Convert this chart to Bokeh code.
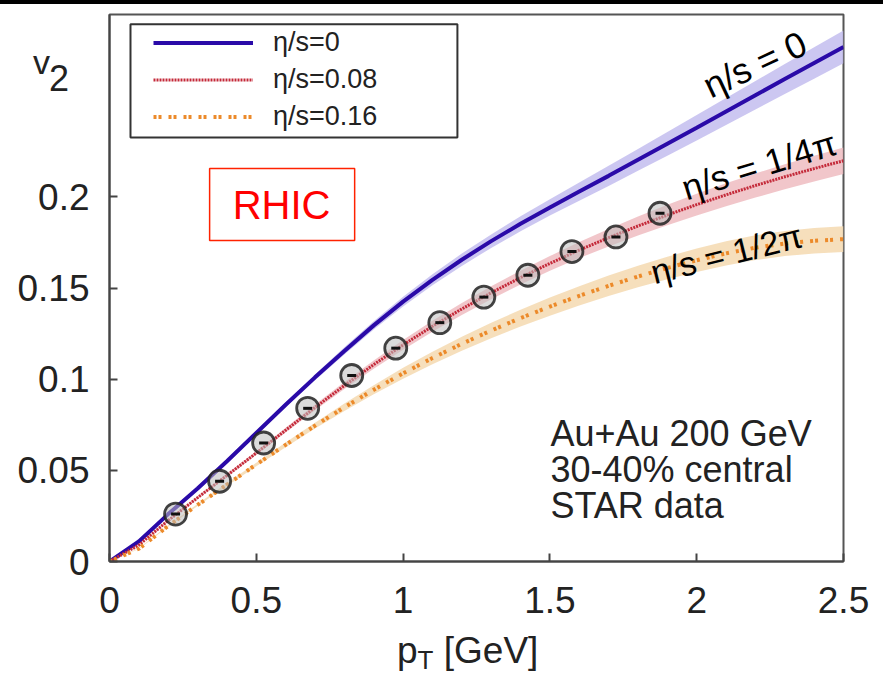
import math
from bokeh.plotting import figure
from bokeh.models import (Legend, LegendItem, Label, FixedTicker, Range1d, Div,
                          BoxAnnotation)
from bokeh.layouts import column
from bokeh.embed import file_html
from bokeh.resources import INLINE

# ---------------- data ----------------
pt = [0.0, 0.1, 0.2, 0.3, 0.4, 0.5, 0.6, 0.7, 0.8, 0.9, 1.0, 1.1, 1.2, 1.3,
      1.4, 1.5, 1.6, 1.7, 1.8, 1.9, 2.0, 2.1, 2.2, 2.3, 2.4, 2.5]

v2_ideal = [0.0, 0.011, 0.026, 0.040, 0.055, 0.0705, 0.086, 0.101, 0.1155, 0.1295,
            0.1425, 0.1545, 0.1655, 0.1757, 0.1852, 0.1942, 0.2029, 0.2115, 0.2203, 0.2291,
            0.2379, 0.2468, 0.2557, 0.2646, 0.2734, 0.2822]
band_ideal = [0.0, 0.0002, 0.0004, 0.0006, 0.0008, 0.001, 0.0013, 0.0016, 0.002, 0.0023,
              0.0027, 0.003, 0.0034, 0.0037, 0.0041, 0.0045, 0.005, 0.0055, 0.006, 0.0065,
              0.007, 0.0074, 0.0078, 0.0082, 0.0086, 0.009]

v2_visc008 = [0.0, 0.009, 0.0225, 0.035, 0.0472, 0.0595, 0.072, 0.0845, 0.0965, 0.108,
              0.1188, 0.129, 0.1385, 0.1474, 0.1557, 0.1635, 0.1708, 0.1776, 0.184, 0.19,
              0.1957, 0.2011, 0.2062, 0.211, 0.2155, 0.2198]
band_visc008 = [0.0, 0.0002, 0.0004, 0.0006, 0.0008, 0.001, 0.0013, 0.0016, 0.0019, 0.0023,
                0.0027, 0.003, 0.0033, 0.0036, 0.0038, 0.004, 0.0044, 0.0048, 0.0052, 0.0056,
                0.006, 0.0063, 0.0066, 0.0069, 0.0071, 0.0073]

v2_visc016 = [0.0, 0.007, 0.0195, 0.031, 0.0422, 0.0532, 0.064, 0.0745, 0.0846, 0.0942,
              0.1032, 0.1116, 0.1194, 0.1267, 0.1335, 0.1398, 0.1457, 0.1512, 0.1563, 0.161,
              0.1652, 0.169, 0.1721, 0.1744, 0.1759, 0.1768]
band_visc016 = [0.0, 0.0002, 0.0004, 0.0006, 0.0008, 0.001, 0.0013, 0.0016, 0.002, 0.0025,
                0.003, 0.0034, 0.0038, 0.0042, 0.0046, 0.005, 0.0053, 0.0056, 0.0059, 0.0062,
                0.0064, 0.0066, 0.0068, 0.0069, 0.007, 0.007]

star_pt = [0.225, 0.375, 0.525, 0.675, 0.825, 0.975, 1.125, 1.275, 1.425, 1.575, 1.725, 1.875]
star_v2 = [0.026, 0.044, 0.065, 0.084, 0.102, 0.117, 0.131, 0.145, 0.157, 0.170, 0.178, 0.191]

series_labels = ["η/s=0", "η/s=0.08", "η/s=0.16"]
x_ticks = [0.0, 0.5, 1.0, 1.5, 2.0, 2.5]
x_tick_labels = ["0", "0.5", "1", "1.5", "2", "2.5"]
y_ticks = [0.0, 0.05, 0.1, 0.15, 0.2]
y_tick_labels = ["0", "0.05", "0.1", "0.15", "0.2"]

FONT = "Liberation Sans"

# ---------------- figure ----------------
p = figure(width=883, height=675, x_range=Range1d(0, 2.5), y_range=Range1d(0, 0.3),
           min_border_left=109, min_border_right=40, min_border_top=10,
           min_border_bottom=118, output_backend="svg", toolbar_location=None)
p.xgrid.visible = False
p.ygrid.visible = False
p.outline_line_color = "#555555"
p.outline_line_width = 2
p.background_fill_color = "white"
p.border_fill_color = "white"

for ax, ticks, labels in ((p.xaxis[0], x_ticks, x_tick_labels), (p.yaxis[0], y_ticks, y_tick_labels)):
    ax.ticker = FixedTicker(ticks=ticks)
    ax.major_label_overrides = {t: l for t, l in zip(ticks, labels)}
    ax.axis_line_color = "#444444"
    ax.axis_line_width = 2
    ax.major_tick_in = 8
    ax.major_tick_out = 0
    ax.major_tick_line_color = "#444444"
    ax.major_tick_line_width = 2
    ax.minor_tick_line_color = None
    ax.major_label_text_font = FONT
    ax.major_label_text_font_size = "37px"
    ax.major_label_text_color = "#222222"
p.xaxis.major_label_standoff = 25
p.yaxis.major_label_standoff = 20

# bands
band_specs = [
    (v2_ideal, band_ideal, "#c3bdee", 0.85),
    (v2_visc008, band_visc008, "#efbcc1", 0.85),
    (v2_visc016, band_visc016, "#f5dcb5", 0.9),
]
for vals, hw, col, a in band_specs:
    lo = [v - h for v, h in zip(vals, hw)]
    hi = [v + h for v, h in zip(vals, hw)]
    p.varea(x=pt, y1=lo, y2=hi, fill_color=col, fill_alpha=a)

l0 = p.line(pt, v2_ideal, line_color="#2a0aa8", line_width=4)
l1 = p.line(pt, v2_visc008, line_color="#c42a3a", line_width=3, line_dash="2 1")
l2 = p.line(pt, v2_visc016, line_color="#ec8a2a", line_width=4, line_dash="3 2 3 7")

# STAR data
p.scatter(star_pt, star_v2, marker="circle", size=22, fill_color="#bdbdbd", fill_alpha=0.55,
          line_color="#222222", line_width=2.8, line_alpha=0.85)
p.scatter(star_pt, star_v2, marker="dash", size=9, line_color="#111111", line_width=3)

# legend
legend = Legend(items=[LegendItem(label=series_labels[0], renderers=[l0]),
                       LegendItem(label=series_labels[1], renderers=[l1]),
                       LegendItem(label=series_labels[2], renderers=[l2])],
                location=(44, 426), padding=0, spacing=0, margin=0,
                label_height=37, glyph_height=37, glyph_width=100, label_standoff=20,
                label_text_font=FONT, label_text_font_size="27px", label_text_color="#222222",
                border_line_alpha=0, background_fill_alpha=0)
p.add_layout(legend, "center")
p.add_layout(BoxAnnotation(left=0.0715, right=1.185, bottom=0.2326, top=0.2946,
                           fill_alpha=0, line_color="#333333", line_width=2, line_alpha=1))

# RHIC box
p.add_layout(BoxAnnotation(left=0.341, right=0.835, bottom=0.1761, top=0.2155,
                           fill_alpha=0, line_color="#ff2200", line_width=1.5, line_alpha=1))
p.add_layout(Label(x=0.586, y=0.1953, text="RHIC", text_align="center", text_baseline="middle",
                   text_font=FONT, text_font_size="40px", text_color="#ff0000"))

# curve annotations
for x, y, txt, ang, fs in ((2.03, 0.2600, "η/s = 0", 25.0, "36px"),
                           (1.953, 0.2046, "η/s = 1/4π", 17.0, "35px"),
                           (1.846, 0.1585, "η/s = 1/2π", 14.0, "34px")):
    p.add_layout(Label(x=x, y=y, text=txt, angle=math.radians(ang), text_align="left",
                       text_baseline="alphabetic", text_font=FONT, text_font_size=fs,
                       text_color="#000000"))

# info text
for y, txt in ((0.0702, "Au+Au 200 GeV"), (0.0505, "30-40% central"), (0.0307, "STAR data")):
    p.add_layout(Label(x=1.502, y=y, text=txt, text_align="left", text_baseline="middle",
                       text_font=FONT, text_font_size="36px", text_color="#222222"))

# axis titles (HTML, placed over the figure margins)
common = {"position": "absolute", "font-family": FONT, "color": "#222222",
          "white-space": "nowrap"}
ylab = Div(text='v<span style="font-size:36px;position:relative;top:17px;left:-1px">2</span>',
           width=60, height=62, margin=0,
           styles={**common, "left": "33px", "top": "42px", "font-size": "34px",
                   "line-height": "40px"})
xlab = Div(text='p<span style="font-size:26px;position:relative;top:6px">T</span> [GeV]',
           width=170, height=49, margin=0,
           styles={**common, "left": "397px", "top": "630px", "font-size": "37px",
                   "line-height": "42px"})

band = Div(text="", width=883, height=4, margin=0, styles={"background-color": "black"})
layout = column(band, p, ylab, xlab, spacing=0)

open("out.html", "w").write(file_html(layout, INLINE))
